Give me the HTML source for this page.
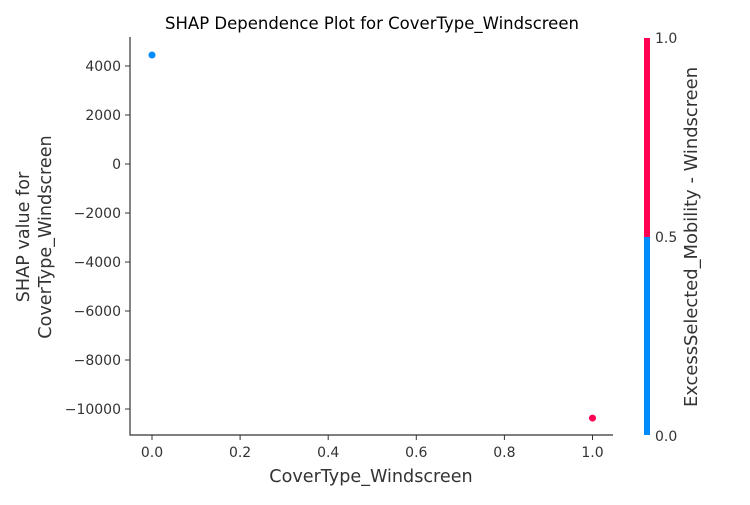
<!DOCTYPE html>
<html><head><meta charset="utf-8"><style>
body{margin:0;background:#fff;}
svg text{font-family:"DejaVu Sans","Liberation Sans",sans-serif;fill:#333;}
</style></head><body>
<svg id="c" width="750" height="500" xmlns="http://www.w3.org/2000/svg">
<text x="372" y="29" text-anchor="middle" font-size="16.5" style="fill:#000">SHAP Dependence Plot for CoverType_Windscreen</text>
<g id="axes"></g>
<g id="pts"></g>
<rect x="644" y="38" width="6" height="199" fill="#ff0052"/>
<rect x="644" y="237" width="6" height="198" fill="#008bfb"/>
<text x="655" y="43" font-size="14">1.0</text>
<text x="655" y="242" font-size="14">0.5</text>
<text x="655" y="441" font-size="14">0.0</text>
<text transform="translate(697,237) rotate(-90)" text-anchor="middle" font-size="17.9">ExcessSelected_Mobility - Windscreen</text>
<text x="371" y="482" text-anchor="middle" font-size="17.6">CoverType_Windscreen</text>
<text transform="translate(29,237) rotate(-90)" text-anchor="middle" font-size="17.6"><tspan x="0" dy="0">SHAP value for</tspan><tspan x="0" dy="22">CoverType_Windscreen</tspan></text>
</svg>
<script>
const xVals=[0,1];
const yVals=[4450,-10370];
const cVals=[0,1];
const xTicks=[0,0.2,0.4,0.6,0.8,1.0];
const yTicks=[4000,2000,0,-2000,-4000,-6000,-8000,-10000];
const NS="http://www.w3.org/2000/svg";
const X=v=>152+v*440.5;
const Y=v=>164-v*0.0245;
const ax=document.getElementById('axes'),pg=document.getElementById('pts');
function mk(t,a,p){const e=document.createElementNS(NS,t);for(const k in a)e.setAttribute(k,a[k]);p.appendChild(e);return e;}
let e=mk('line',{x1:130,y1:37,x2:130,y2:435.5,stroke:'#333','stroke-width':1.2},ax);


e=mk('line',{x1:129.5,y1:435,x2:613,y2:435,stroke:'#333','stroke-width':1.2},ax);


xTicks.forEach(t=>{const x=X(t);
mk('line',{x1:x,y1:435,x2:x,y2:440,stroke:'#333'},ax);
const tx=mk('text',{x:x,y:457,'text-anchor':'middle','font-size':14},ax);tx.textContent=t.toFixed(1);

});
yTicks.forEach(t=>{const y=Y(t);
mk('line',{x1:125,y1:y,x2:130,y2:y,stroke:'#333'},ax);
const tx=mk('text',{x:121,y:y+5,'text-anchor':'end','font-size':14},ax);tx.textContent=t<0?'\u2212'+(-t):String(t);

});
xVals.forEach((v,i)=>{const c=mk('circle',{cx:X(v),cy:Y(yVals[i]),r:3.5,fill:cVals[i]>0.5?'#ff0052':'#008bfb'},pg);

});
</script>
</body></html>
